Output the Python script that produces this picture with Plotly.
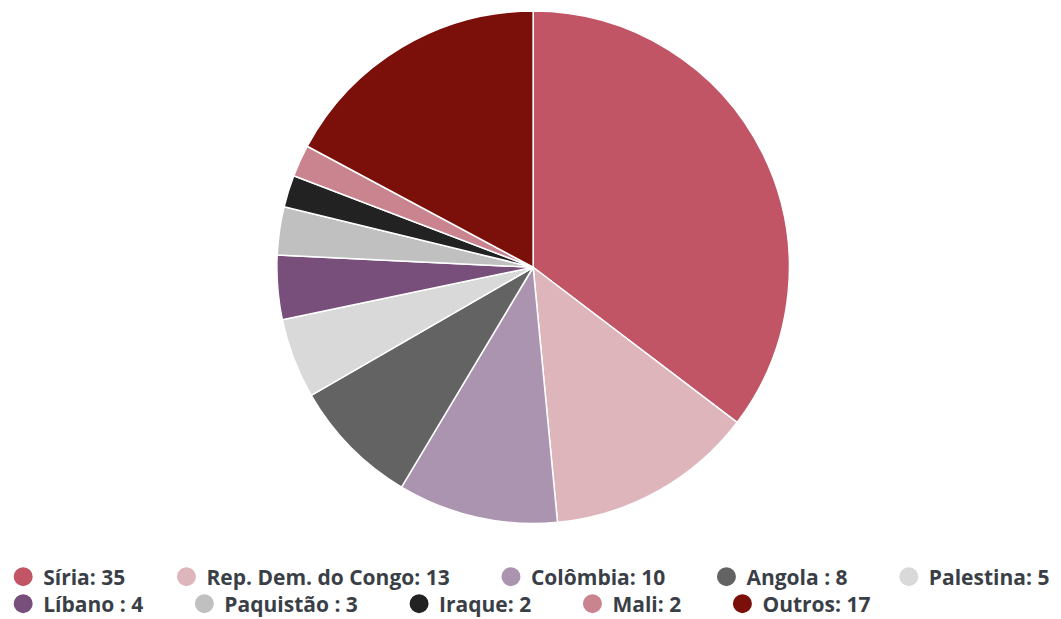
import plotly.graph_objects as go

labels = ["Síria", "Rep. Dem. do Congo", "Colômbia", "Angola", "Palestina",
          "Líbano", "Paquistão", "Iraque", "Mali", "Outros"]
values = [35, 13, 10, 8, 5, 4, 3, 2, 2, 17]
legend_text = ["Síria: 35", "Rep. Dem. do Congo: 13", "Colômbia: 10", "Angola : 8",
               "Palestina: 5", "Líbano : 4", "Paquistão : 3", "Iraque: 2", "Mali: 2", "Outros: 17"]
legend_row = ["legend", "legend", "legend", "legend", "legend",
              "legend2", "legend2", "legend2", "legend2", "legend2"]
colors = ["#c25565", "#deb5bb", "#ab94b0", "#636363", "#d9d9d9",
          "#774f7a", "#c0c0c0", "#222222", "#c98490", "#7b0f0a"]

PAD = "\u00a0" * 6 + "\u2009"
PLOT_H = 557  # plot area left above the legends (px)

fig = go.Figure()
fig.add_trace(go.Pie(
    labels=labels, values=values, sort=False, direction="clockwise", rotation=0,
    marker=dict(colors=colors, line=dict(color="white", width=1.5)),
    textinfo="none", hoverinfo="label+value", showlegend=False,
    domain=dict(x=[0.005, 1.0], y=[1 - 524 / PLOT_H, 1 - 11 / PLOT_H]),
))
n = len(legend_text)
for i, (t, c, lg) in enumerate(zip(legend_text, colors, legend_row)):
    last_in_row = (i == n - 1) or (legend_row[i + 1] != lg)
    fig.add_trace(go.Scatter(
        x=[None], y=[None], mode="markers",
        name=t if last_in_row else t + PAD, legend=lg,
        marker=dict(color=c, size=16, symbol="circle", line=dict(color=c, width=3)),
    ))

legend_style = dict(
    orientation="h", x=0.003, xanchor="left", yanchor="middle", yref="container",
    font=dict(family="Open Sans", size=21, color="#3a3f47", weight="bold"),
    traceorder="normal", bgcolor="rgba(0,0,0,0)",
)
fig.update_layout(
    width=1061, height=619,
    margin=dict(l=0, r=0, t=0, b=0),
    paper_bgcolor="white", plot_bgcolor="white",
    xaxis=dict(visible=False), yaxis=dict(visible=False),
    legend=dict(y=1 - 577 / 619, **legend_style),
    legend2=dict(y=1 - 604 / 619, **legend_style),
)
fig.write_html("out.html")
